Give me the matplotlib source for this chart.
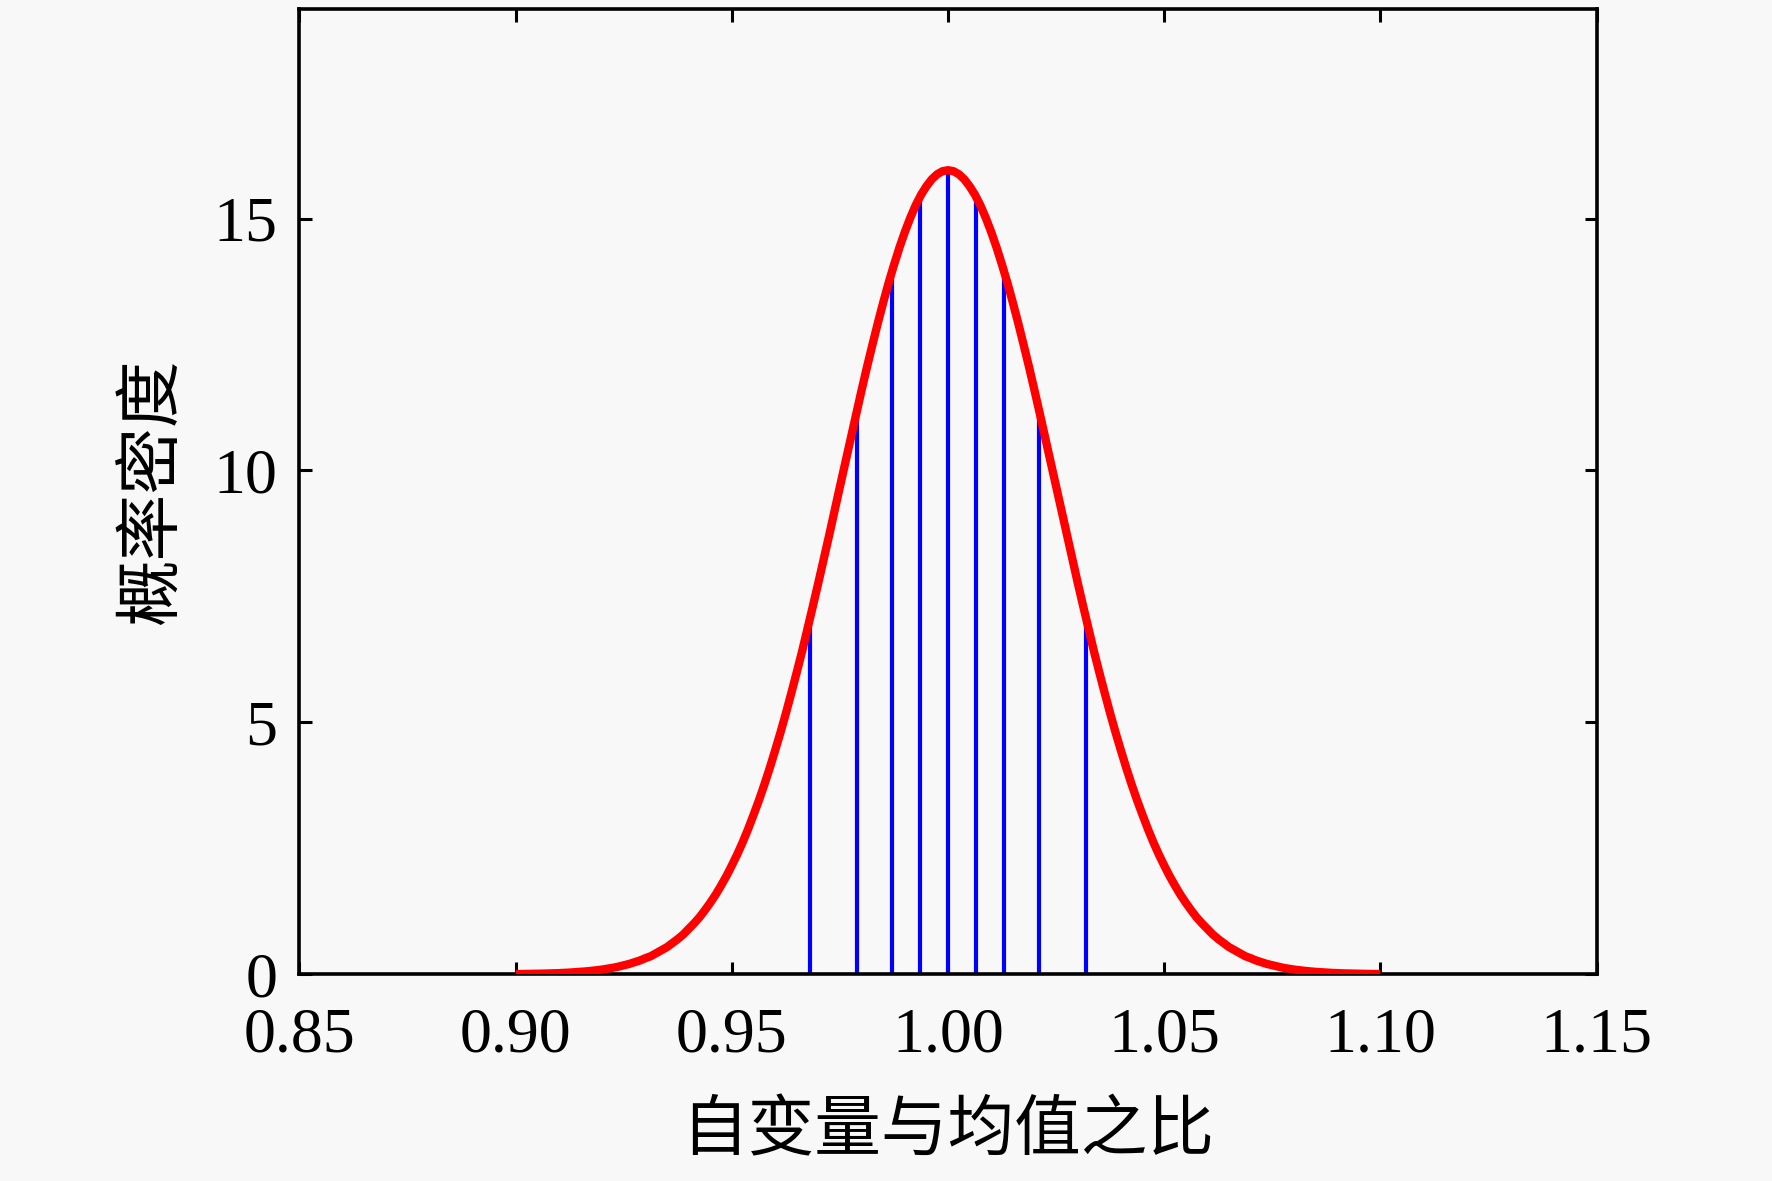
import numpy as np
import matplotlib
matplotlib.use("Agg")
import matplotlib.pyplot as plt

# Density curve values (x from 0.90 to 1.10, step 0.00125)
curve_x = np.linspace(0.90, 1.10, 161)
curve_y = [0.005, 0.0065, 0.008, 0.010, 0.012, 0.014, 0.017, 0.020, 0.024, 0.029,
           0.035, 0.042, 0.049, 0.058, 0.069, 0.081, 0.095, 0.112, 0.13, 0.152,
           0.18, 0.206, 0.24, 0.275, 0.32, 0.36, 0.42, 0.48, 0.54, 0.62,
           0.70, 0.79, 0.90, 1.01, 1.13, 1.27, 1.42, 1.58, 1.76, 1.95,
           2.16, 2.38, 2.62, 2.88, 3.16, 3.45, 3.76, 4.09, 4.44, 4.80,
           5.18, 5.58, 5.99, 6.41, 6.86, 7.31, 7.77, 8.24, 8.71, 9.20,
           9.68, 10.16, 10.64, 11.12, 11.59, 12.05, 12.49, 12.92, 13.33, 13.72,
           14.08, 14.42, 14.73, 15.01, 15.26, 15.47, 15.64, 15.78, 15.88, 15.94,
           15.96,
           15.94, 15.88, 15.78, 15.64, 15.47, 15.26, 15.01, 14.73, 14.42, 14.08,
           13.72, 13.33, 12.92, 12.49, 12.05, 11.59, 11.12, 10.64, 10.16, 9.68,
           9.20, 8.71, 8.24, 7.77, 7.31, 6.86, 6.41, 5.99, 5.58, 5.18,
           4.80, 4.44, 4.09, 3.76, 3.45, 3.16, 2.88, 2.62, 2.38, 2.16,
           1.95, 1.76, 1.58, 1.42, 1.27, 1.13, 1.01, 0.90, 0.79, 0.70,
           0.62, 0.54, 0.48, 0.42, 0.36, 0.32, 0.275, 0.24, 0.206, 0.18,
           0.152, 0.13, 0.112, 0.095, 0.081, 0.069, 0.058, 0.049, 0.042, 0.035,
           0.029, 0.024, 0.020, 0.017, 0.014, 0.012, 0.010, 0.008, 0.0065, 0.005]

# Vertical (decile) lines
line_x = [0.968, 0.979, 0.987, 0.9936, 1.000, 1.0064, 1.013, 1.021, 1.032]
line_h = [7.03, 11.21, 13.94, 15.44, 15.96, 15.44, 13.94, 11.21, 7.03]

xticks = [0.85, 0.90, 0.95, 1.00, 1.05, 1.10, 1.15]
xtick_labels = ["0.85", "0.90", "0.95", "1.00", "1.05", "1.10", "1.15"]
yticks = [0, 5, 10, 15]
xlabel = "自变量与均值之比"
ylabel = "概率密度"

bg = "#f8f8f8"
plt.rcParams['font.family'] = ['Liberation Serif', 'Noto Sans CJK SC']
fig = plt.figure(figsize=(17.72, 11.81), dpi=100, facecolor=bg)
ax = fig.add_axes([0.169, 0.175, 0.732, 0.817])
ax.set_facecolor(bg)

ax.vlines(line_x, 0, line_h, colors="#0000ff", linewidth=3.0, zorder=2)
ax.plot(curve_x, curve_y, color="#ff0000", linewidth=6, zorder=3,
        solid_capstyle="butt", solid_joinstyle="round")

ax.set_xlim(0.85, 1.15)
ax.set_ylim(0, 19.15)
ax.set_xticks(xticks)
ax.set_xticklabels(xtick_labels)
ax.set_yticks(yticks)
ax.tick_params(direction="in", length=9, width=2.2, top=True, right=True,
               labelsize=46, colors="black")
ax.tick_params(axis="x", pad=24)
ax.tick_params(axis="y", pad=16)
for s in ax.spines.values():
    s.set_linewidth(2.6)
    s.set_color("black")

ax.set_xlabel(xlabel, fontsize=48, labelpad=26)
ax.set_ylabel(ylabel, fontsize=48, labelpad=20)

fig.savefig("out.png", dpi=100, facecolor=bg)
